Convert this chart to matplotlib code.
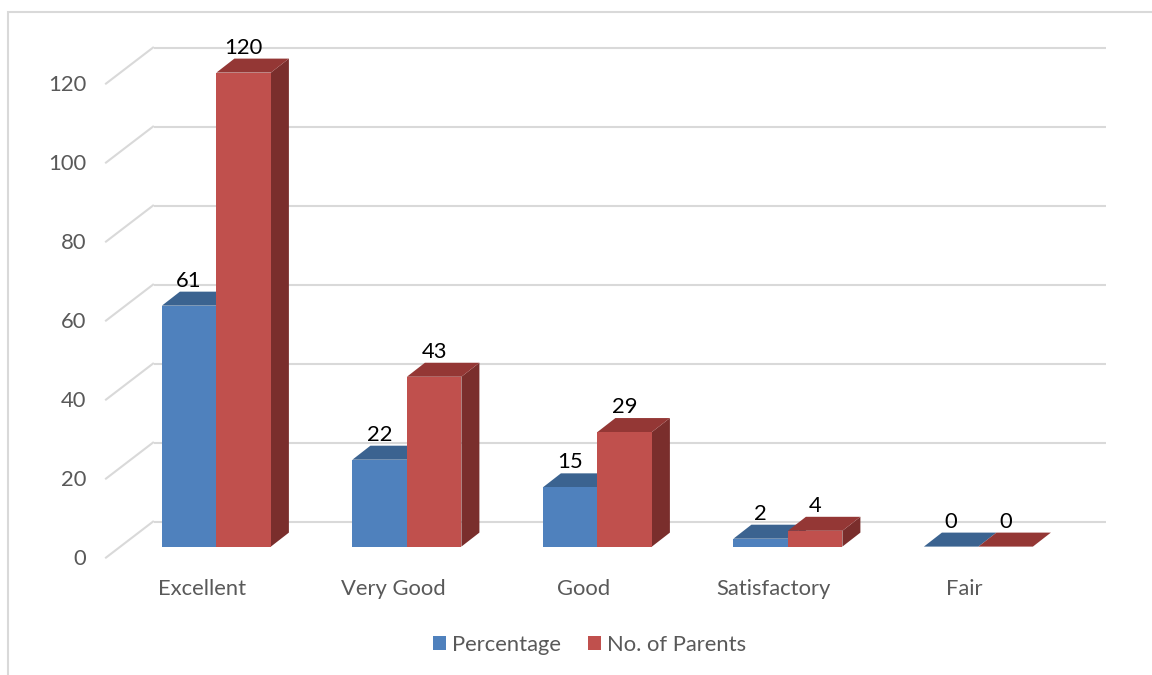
import matplotlib
matplotlib.use("Agg")
import matplotlib.pyplot as plt
from matplotlib.patches import Polygon, Patch, Rectangle
from matplotlib.transforms import ScaledTranslation

categories = ["Excellent", "Very Good", "Good", "Satisfactory", "Fair"]
percentage = [61, 22, 15, 2, 0]
parents = [120, 43, 29, 4, 0]
y_ticks = [0, 20, 40, 60, 80, 100, 120]

plt.rcParams['font.family'] = ['Lato', 'DejaVu Sans']
W, H = 1152, 675
fig = plt.figure(figsize=(W / 100, H / 100), dpi=100, facecolor='white')
fig.add_artist(Rectangle((8 / W, -0.05), 1.2, 1.05 - 12 / H, transform=fig.transFigure,
                         fill=False, ec='#D9D9D9', lw=1.5))

L, R, B, T = 108, 1106, 546.6, 47.6
ax = fig.add_axes([L / W, (H - B) / H, (R - L) / W, (B - T) / H])
ax.patch.set_alpha(0)
PX_X, PX_Y = 190.5, 3.95
X0 = 216.4
ax.set_xlim((L - X0) / PX_X, (R - X0) / PX_X)
ax.set_ylim(0, (B - T) / PX_Y)
for s in ax.spines.values():
    s.set_visible(False)

GRID = '#D9D9D9'
dx = lambda p: p / PX_X
dy = lambda p: p / PX_Y
xl, xr = ax.get_xlim()
for v in y_ticks:
    # back wall gridline and the slanted side-wall line
    ax.plot([dx(L + 46 - X0), xr], [v + dy(25)] * 2, color=GRID, lw=1.5, zorder=1,
            clip_on=False, solid_capstyle='butt')
    ax.plot([dx(L - 2 - X0), dx(L + 45 - X0)], [v - dy(11), v + dy(25)], color=GRID, lw=1.5,
            zorder=1, clip_on=False)

BW = 54.5 / PX_X
DX, DY = dx(18), dy(14)


def bar3d(values, shift, front, top, side, z):
    xs = [i + shift for i in range(len(values))]
    for x, v in zip(xs, values):
        l, r = x - BW / 2, x + BW / 2
        ax.add_patch(Polygon([(r, 0), (r + DX, DY), (r + DX, v + DY), (r, v)], fc=side, ec='none',
                             zorder=z, clip_on=False))
        ax.add_patch(Polygon([(l, v), (r, v), (r + DX, v + DY), (l + DX, v + DY)], fc=top, ec='none',
                             zorder=z, clip_on=False))
    ax.bar(xs, values, width=BW, color=front, zorder=z, clip_on=False)
    for x, v in zip(xs, values):
        ax.annotate(str(v), (x, v), xytext=(0, 25 * 0.72), textcoords='offset points',
                    ha='center', va='center', fontsize=15.8, color='black', zorder=10,
                    annotation_clip=False)


bar3d(percentage, -BW / 2, '#4F81BD', '#3B6390', '#335579', 3)
bar3d(parents, BW / 2, '#C0504D', '#943735', '#7A2E2C', 4)

ax.set_yticks(y_ticks)
ax.set_xticks([i - dx(14) for i in range(len(categories))])
ax.set_xticklabels(categories)
ax.tick_params(axis='y', length=0, pad=15.5, labelsize=15.8, labelcolor='#595959')
ax.tick_params(axis='x', length=0, pad=23, labelsize=15.8, labelcolor='#595959')
off = ScaledTranslation(0, -10 / 100, fig.dpi_scale_trans)
for lab in ax.get_yticklabels():
    lab.set_transform(lab.get_transform() + off)

handles = [Patch(fc='#4F81BD', label='Percentage'), Patch(fc='#C0504D', label='No. of Parents')]
leg = fig.legend(handles=handles, loc='center', bbox_to_anchor=(589.5 / W, (H - 645) / H), ncol=2,
                 frameon=False, fontsize=15.8, labelcolor='#595959', handlelength=0.6,
                 handleheight=0.6, handletextpad=0.28, columnspacing=1.2, borderpad=0)

fig.savefig('out.png', dpi=100, facecolor='white')
